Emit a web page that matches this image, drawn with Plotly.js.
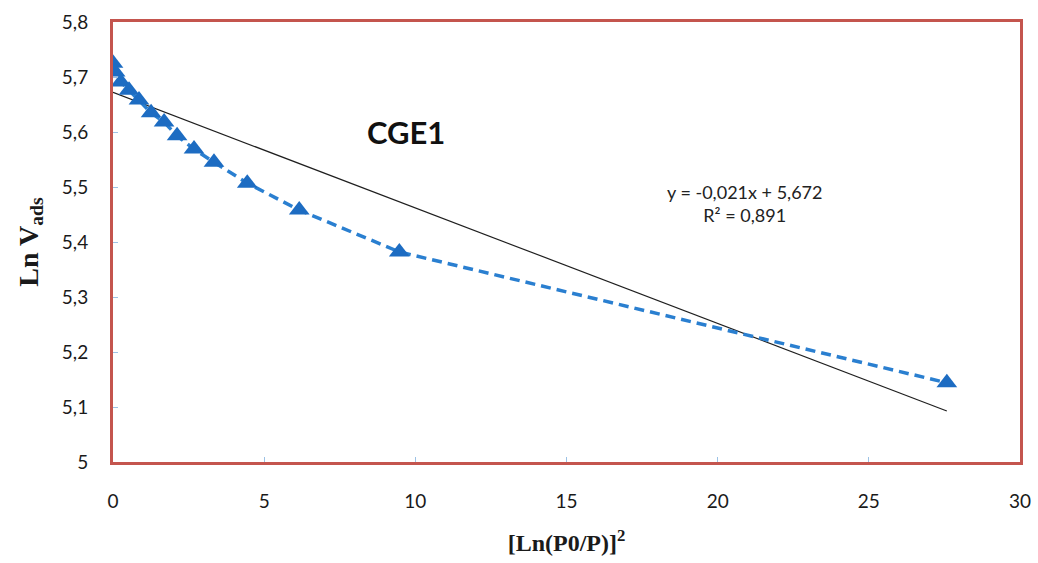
<!DOCTYPE html>
<html>
<head>
<meta charset="utf-8">
<script src="https://cdn.plot.ly/plotly-3.0.1.min.js"></script>
<style>
  html, body { margin: 0; padding: 0; background: #ffffff; }
  #chart { width: 1038px; height: 563px; }
</style>
</head>
<body>
<div id="chart"></div>
<script>
// Adsorption isotherm points: [Ln(P0/P)]^2 against Ln Vads
const lnRatioSquared = [0.0, 0.07, 0.26, 0.53, 0.86, 1.26, 1.69, 2.12, 2.68, 3.34, 4.44, 6.16, 9.47, 27.58];
const lnVads = [5.725, 5.709, 5.691, 5.676, 5.658, 5.635, 5.618, 5.593, 5.569, 5.545, 5.507, 5.458, 5.382, 5.144];

// Linear trend line coefficients and fit quality
const trendSlope = -0.021;
const trendIntercept = 5.672;
const trendR2 = 0.891;

const sampleName = 'CGE1';
const xTicks = [0, 5, 10, 15, 20, 25, 30];
const yTicks = [5, 5.1, 5.2, 5.3, 5.4, 5.5, 5.6, 5.7, 5.8];

const fmt = (v, d) => v.toFixed(d).replace('.', ',');

const xEnd = Math.max(...lnRatioSquared);
const trendX = [0, xEnd];
const trendY = trendX.map(x => trendIntercept + trendSlope * x);

const frameColor = '#c4554e';
const tickFont = { family: 'Lato, "Open Sans", sans-serif', size: 19, color: '#1a1a1a' };

const traces = [
  {
    x: trendX, y: trendY, type: 'scatter', mode: 'lines',
    line: { color: '#1f1f1f', width: 1.2 },
    hoverinfo: 'skip', showlegend: false
  },
  {
    x: lnRatioSquared, y: lnVads, type: 'scatter', mode: 'lines+markers',
    line: { color: '#2a7fd0', width: 3.5, dash: '10px,6px' },
    marker: { symbol: 'triangle-up', size: 18, color: '#1d6cc2' },
    showlegend: false
  }
];

const layout = {
  width: 1038, height: 563,
  margin: { l: 113, r: 18, t: 22, b: 101 },
  paper_bgcolor: '#ffffff', plot_bgcolor: '#ffffff',
  separators: ', ',
  showlegend: false,
  xaxis: {
    range: [0, 30], tickvals: xTicks, ticktext: xTicks.map(String),
    showgrid: false, zeroline: false,
    showline: true, mirror: true, linecolor: frameColor, linewidth: 3,
    ticks: 'inside', ticklen: 5, tickcolor: '#9cc2e5', tickwidth: 1,
    ticklabelstandoff: 20,
    tickfont: tickFont,
    title: {
      text: '[Ln(P0/P)]<sup>2</sup>',
      font: { family: '"Liberation Serif", "DejaVu Serif", serif', size: 24, color: '#1a1a1a', weight: 'bold' },
      standoff: 24
    }
  },
  yaxis: {
    range: [5, 5.8], tickvals: yTicks, ticktext: yTicks.map(v => fmt(v, v === 5 ? 0 : 1)),
    showgrid: false, zeroline: false,
    showline: true, mirror: true, linecolor: frameColor, linewidth: 3,
    ticks: 'inside', ticklen: 5, tickcolor: '#9cc2e5', tickwidth: 1,
    ticklabelstandoff: 18,
    tickfont: tickFont,
    title: {
      text: 'Ln V<sub>ads</sub>',
      font: { family: '"Liberation Serif", "DejaVu Serif", serif', size: 28, color: '#1a1a1a', weight: 'bold' },
      standoff: 16
    }
  },
  annotations: [
    {
      x: 9.7, y: 5.6, xref: 'x', yref: 'y', showarrow: false,
      text: '<b>' + sampleName + '</b>',
      font: { family: 'Lato, "Open Sans", sans-serif', size: 31, color: '#111111' }
    },
    {
      x: 20.9, y: 5.47, xref: 'x', yref: 'y', showarrow: false,
      text: 'y = ' + fmt(trendSlope, 3) + 'x + ' + fmt(trendIntercept, 3) +
            '<br>R² = ' + fmt(trendR2, 3),
      align: 'center',
      font: { family: 'Lato, "Open Sans", sans-serif', size: 18, color: '#222222' }
    }
  ]
};

Plotly.newPlot('chart', traces, layout, { displayModeBar: false, staticPlot: true });
</script>
</body>
</html>
